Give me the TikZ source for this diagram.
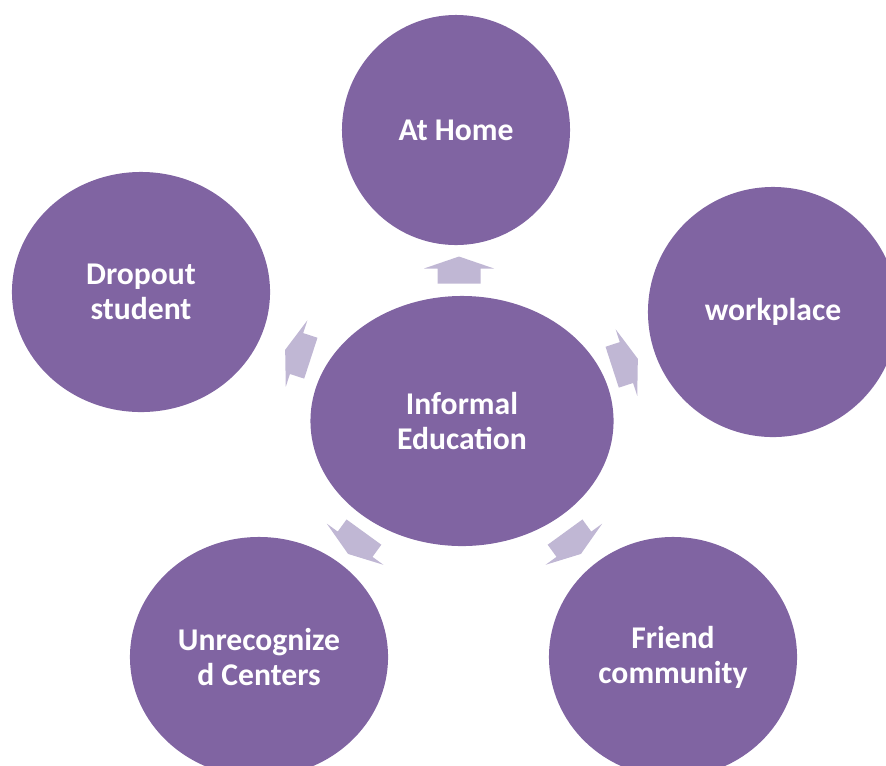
\documentclass[tikz,border=0pt]{standalone}
\usepackage{fontspec}
\setmainfont{Carlito}
\usetikzlibrary{shapes.geometric}
\definecolor{bubblepurple}{HTML}{8064A2}
\definecolor{arrowlilac}{HTML}{C0B7D4}
\tikzset{
  bubble/.style={ellipse, fill=bubblepurple, inner sep=0pt, text=white, align=center,
    font=\fontsize{22.5}{25}\selectfont\bfseries},
  blockarrow/.pic={
    \fill[arrowlilac] (-13.5,-21.5) -- (1.5,-21.5) -- (1.5,-35) -- (13.5,0)
      -- (1.5,35) -- (1.5,21.5) -- (-13.5,21.5) -- cycle;
  }
}
\begin{document}
\begin{tikzpicture}[x=0.025cm, y=-0.025cm]
  \clip (0,0) rectangle (886,765);
  % Nodes
  \node (info) [bubble, minimum width=7.575cm, minimum height=6.25cm] at (462, 421) {Informal\\Education};
  \node (home) [bubble, minimum width=5.7cm, minimum height=5.75cm] at (456, 130) {At Home};
  \node (drop) [bubble, minimum width=6.45cm, minimum height=6cm] at (141, 292) {Dropout\\student};
  \node (work) [bubble, minimum width=6.25cm, minimum height=6.25cm] at (773, 312) {workplace};
  \node (unrec) [bubble, minimum width=6.45cm, minimum height=6cm] at (259, 657) {Unrecognize\\d Centers};
  \node (friend) [bubble, minimum width=6.2cm, minimum height=6cm] at (673, 657) {Friend\\community};
  % Arrows
  \pic[rotate=90] (a-home) at (459, 270) {blockarrow};
  \pic[rotate=18] (a-work) at (625, 363) {blockarrow};
  \pic[rotate=-54] (a-friend) at (573, 543) {blockarrow};
  \pic[rotate=-126] (a-unrec) at (356, 543) {blockarrow};
  \pic[rotate=162] (a-drop) at (298, 354) {blockarrow};
\end{tikzpicture}
\end{document}
